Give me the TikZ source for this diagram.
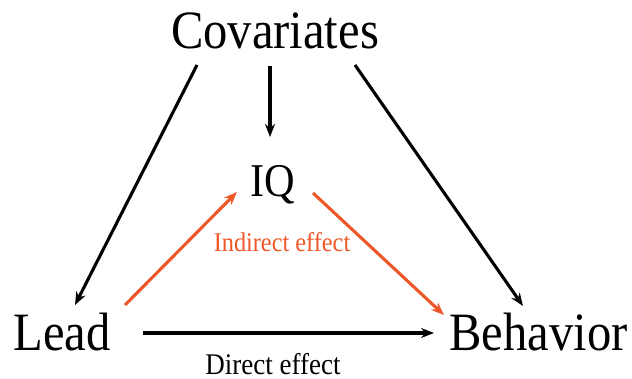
\documentclass[tikz,border=0pt]{standalone}
\usepackage{fontspec}
\setmainfont{Liberation Serif}[FakeStretch=0.9]
\usetikzlibrary{arrows.meta}
\definecolor{eff}{RGB}{238,88,40}
\begin{document}
\begin{tikzpicture}[x=1pt,y=1pt,
  big/.style={anchor=base,inner sep=0pt,font=\fontsize{54}{60}\selectfont},
  lbl/.style={anchor=base,inner sep=0pt},
  arr/.style={line width=3.1pt,-{Stealth[length=13pt,width=10pt]}},
  oarr/.style={arr,draw=eff,color=eff}]
\useasboundingbox (0,0) rectangle (632,378);
\fill[white] (0,0) rectangle (632,378);
\node[big] (cov) at (275,329) {Covariates};
\node[big,font=\fontsize{47}{52}\selectfont] (iq) at (272.5,181) {IQ};
\node[big] (lead) at (62,28) {Lead};
\node[big] (beh) at (538.5,28) {Behavior};
\node[lbl,text=eff,font=\fontsize{27}{30}\selectfont] (ind) at (282,127) {Indirect effect};
\node[lbl,font=\fontsize{30}{33}\selectfont] (dir) at (273,4) {Direct effect};
\draw[arr] ([shift={(-78,-16)}]cov.base) -- ([shift={(13,45)}]lead.base);
\draw[arr] ([shift={(-5,-17)}]cov.base) -- ([shift={(-2.5,60)}]iq.base);
\draw[arr] ([shift={(80,-16)}]cov.base) -- ([shift={(-15.5,44)}]beh.base);
\draw[oarr] ([shift={(63,45)}]lead.base) -- ([shift={(-35.5,5)}]iq.base);
\draw[oarr] ([shift={(40.5,4)}]iq.base) -- ([shift={(-94.5,35)}]beh.base);
\draw[arr] ([shift={(81,17)}]lead.base) -- ([shift={(-104.5,17)}]beh.base);
\end{tikzpicture}
\end{document}
